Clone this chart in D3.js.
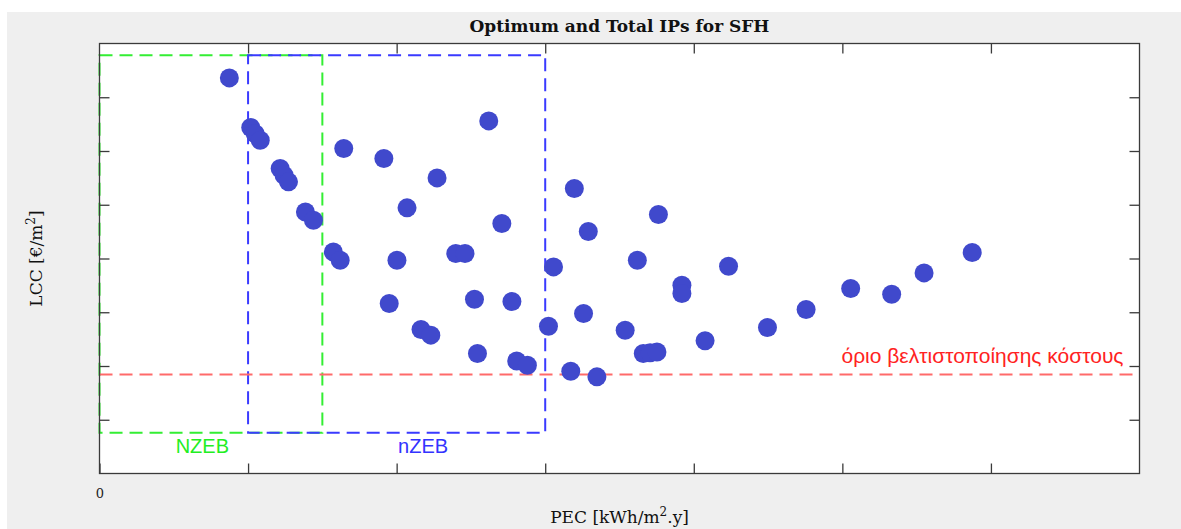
<!DOCTYPE html>
<html>
<head>
<meta charset="utf-8">
<script src="https://cdn.jsdelivr.net/npm/d3@7"></script>
<style>
  body { margin: 0; background: #fff; }
</style>
</head>
<body>
<div class="body"></div>
<script>
// PEC [kWh/m2.y] and LCC [€/m2] of every intervention package
const pec = [43.7, 50.9, 52.4, 54.1, 60.8, 62.1, 63.6, 69.3, 72.0, 82.2,
  95.7, 113.6, 103.5, 131.0, 135.4, 78.7, 81.0, 100.1, 119.9, 123.0,
  97.5, 126.2, 138.8, 108.2, 111.5, 127.2, 140.4, 144.0, 151.1, 159.8,
  188.1, 164.5, 152.8, 181.0, 211.7, 196.0, 196.0, 162.9, 176.9, 203.8,
  224.8, 183.0, 185.3, 187.6, 158.6, 167.4, 237.8, 252.8, 266.6, 277.5, 293.7];
const lcc = [368.0, 321.9, 316.1, 310.0, 283.7, 277.5, 271.3, 243.3, 235.6, 302.3,
  293.0, 275.0, 247.1, 328.0, 232.6, 206.1, 198.4, 198.4, 204.7, 204.7,
  158.1, 162.1, 160.0, 134.0, 128.7, 111.6, 104.7, 100.7, 137.0, 265.1,
  240.9, 225.1, 192.2, 198.4, 192.8, 175.2, 167.4, 148.8, 133.3, 123.5,
  135.8, 111.6, 112.4, 113.1, 95.2, 89.9, 152.6, 172.1, 166.8, 186.6, 205.6];

const xTicks = [0, 50, 100, 150, 200, 250, 300];
const yTicks = [50, 100, 150, 200, 250, 300, 350];

// cost optimality limit and the two zero energy regions
const costLimit = 92;
const nzebPec = [0, 75];
const nzebLcc = [38, 389];
const nZebPec = [50, 150];
const nZebLcc = [38, 389];
// where the region names sit along PEC
const nzebLabelPec = 34.6;
const nZebLabelPec = 108.9;

const W = 1181, H = 529;
const margin = { top: 43.5, right: 41.5, bottom: 55.5, left: 99.5 };
const w = W - margin.left - margin.right;
const h = H - margin.top - margin.bottom;

const svg = d3.select(".body").append("svg")
  .attr("width", W)
  .attr("height", H)
  .style("display", "block");

// grey figure background
svg.append("rect")
  .attr("x", 7).attr("y", 12)
  .attr("width", W - 7).attr("height", H - 12)
  .attr("fill", "#efefef");

const g = svg.append("g").attr("transform", `translate(${margin.left},${margin.top})`);

const x = d3.scaleLinear().domain([0, 350]).range([0, w]);
const y = d3.scaleLinear().domain([0, 400]).range([h, 0]);

g.append("rect")
  .attr("width", w).attr("height", h)
  .attr("fill", "#fff");

// title
svg.append("text")
  .text("Optimum and Total IPs for SFH")
  .attr("x", margin.left + w / 2)
  .attr("y", 32)
  .attr("text-anchor", "middle")
  .style("font-family", "'DejaVu Serif', serif")
  .style("font-weight", "bold")
  .style("font-size", "17px")
  .style("fill", "#111");

// dashed region boxes
function box(px, ly, color) {
  g.append("rect")
    .attr("x", x(px[0]))
    .attr("y", y(ly[1]))
    .attr("width", x(px[1]) - x(px[0]))
    .attr("height", y(ly[0]) - y(ly[1]))
    .attr("fill", "none")
    .attr("stroke", color)
    .attr("stroke-width", 2)
    .attr("stroke-dasharray", "13,7");
}
box(nzebPec, nzebLcc, "#33ee33");
box(nZebPec, nZebLcc, "#3a3aff");

g.append("line")
  .attr("x1", 0).attr("x2", w)
  .attr("y1", y(costLimit)).attr("y2", y(costLimit))
  .attr("stroke", "#ff6a6a")
  .attr("stroke-width", 2)
  .attr("stroke-dasharray", "13,7");

const sans = "'Liberation Sans', Arial, sans-serif";

g.append("text")
  .text("NZEB")
  .attr("x", x(nzebLabelPec))
  .attr("y", y(nzebLcc[0]) + 20)
  .attr("text-anchor", "middle")
  .style("font-family", sans)
  .style("font-size", "20px")
  .style("fill", "#22ee22");

g.append("text")
  .text("nZEB")
  .attr("x", x(nZebLabelPec))
  .attr("y", y(nZebLcc[0]) + 20)
  .attr("text-anchor", "middle")
  .style("font-family", sans)
  .style("font-size", "20px")
  .style("fill", "#3333ff");

g.append("text")
  .text("όριο βελτιστοποίησης κόστους")
  .attr("x", w - 16)
  .attr("y", y(costLimit) - 12)
  .attr("text-anchor", "end")
  .style("font-family", sans)
  .style("font-size", "21px")
  .style("fill", "#ff2222");

// points
g.selectAll("circle")
  .data(pec.map((p, i) => [p, lcc[i]]))
  .join("circle")
  .attr("cx", d => x(d[0]))
  .attr("cy", d => y(d[1]))
  .attr("r", 9.5)
  .attr("fill", "#4049cc");

// axes, ticks pointing inward, only the origin labelled
const axisColor = "#3a3a3a";
function styleAxis(sel) {
  sel.select(".domain").remove();
  sel.selectAll(".tick line").attr("stroke", axisColor).attr("stroke-width", 1.3);
  sel.selectAll(".tick text")
    .style("font-family", "'DejaVu Serif', serif")
    .style("font-size", "13px")
    .style("fill", "#222");
}

g.append("g")
  .attr("transform", `translate(0,${h})`)
  .call(d3.axisBottom(x).tickValues(xTicks).tickSize(-10).tickPadding(15)
    .tickFormat(d => d === 0 ? "0" : ""))
  .call(styleAxis);
g.append("g")
  .call(d3.axisTop(x).tickValues(xTicks.slice(1)).tickSize(-10).tickFormat(""))
  .call(styleAxis);
g.append("g")
  .call(d3.axisLeft(y).tickValues(yTicks).tickSize(-10).tickFormat(""))
  .call(styleAxis);
g.append("g")
  .attr("transform", `translate(${w},0)`)
  .call(d3.axisRight(y).tickValues(yTicks).tickSize(-10).tickFormat(""))
  .call(styleAxis);

g.append("rect")
  .attr("width", w).attr("height", h)
  .attr("fill", "none")
  .attr("stroke", axisColor)
  .attr("stroke-width", 1.3);

// axis titles
const xLabel = svg.append("text")
  .attr("x", margin.left + w / 2)
  .attr("y", 523)
  .attr("text-anchor", "middle")
  .style("font-family", "'DejaVu Serif', serif")
  .style("font-size", "17px")
  .style("fill", "#111");
xLabel.append("tspan").text("PEC [kWh/m");
xLabel.append("tspan").text("2").attr("dy", -7).style("font-size", "12px");
xLabel.append("tspan").text(".y]").attr("dy", 7);

const yLabel = svg.append("text")
  .attr("transform", `translate(42,${margin.top + h / 2}) rotate(-90)`)
  .attr("text-anchor", "middle")
  .style("font-family", "'DejaVu Serif', serif")
  .style("font-size", "17px")
  .style("fill", "#111");
yLabel.append("tspan").text("LCC [€/m");
yLabel.append("tspan").text("2").attr("dy", -7).style("font-size", "12px");
yLabel.append("tspan").text("]").attr("dy", 7);
</script>
</body>
</html>
